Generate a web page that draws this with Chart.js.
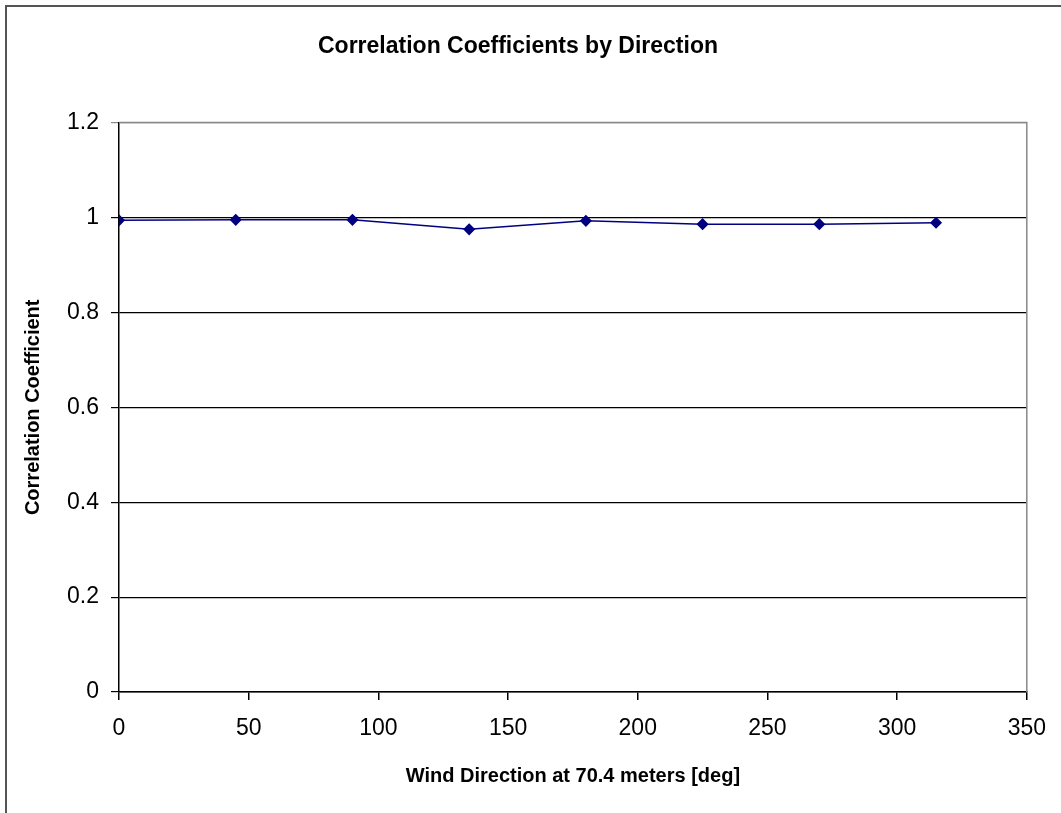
<!DOCTYPE html>
<html>
<head>
<meta charset="utf-8">
<script src="https://cdn.jsdelivr.net/npm/chart.js@4"></script>
<style>
  html, body { margin: 0; padding: 0; background: #fff; }
  #wrap { width: 1061px; height: 813px; position: relative; }
</style>
</head>
<body>
<div id="wrap"><canvas id="c" width="1061" height="813"></canvas></div>
<script>
const directions = [0, 45, 90, 135, 180, 225, 270, 315];
const correlation = [0.994, 0.995, 0.995, 0.975, 0.993, 0.986, 0.986, 0.989];
const titleText = 'Correlation Coefficients by Direction';
const xTitle = 'Wind Direction at 70.4 meters [deg]';
const yTitle = 'Correlation Coefficient';

const FONT = '"Liberation Sans", Arial, sans-serif';

const framePlugin = {
  id: 'frame',
  beforeDraw(chart) {
    const ctx = chart.ctx;
    ctx.save();
    ctx.fillStyle = '#fff';
    ctx.fillRect(0, 0, chart.width, chart.height);
    ctx.strokeStyle = '#555';
    ctx.lineWidth = 2;
    ctx.beginPath();
    ctx.moveTo(6, chart.height + 5);
    ctx.lineTo(6, 6);
    ctx.lineTo(chart.width + 5, 6);
    ctx.stroke();
    ctx.restore();
  },
  beforeDatasetsDraw(chart) {
    const ctx = chart.ctx;
    const a = chart.chartArea;
    ctx.save();
    ctx.strokeStyle = '#888';
    ctx.lineWidth = 1.5;
    ctx.beginPath();
    ctx.moveTo(a.left, a.top);
    ctx.lineTo(a.right, a.top);
    ctx.lineTo(a.right, a.bottom);
    ctx.stroke();
    ctx.restore();
  }
};

new Chart(document.getElementById('c'), {
  type: 'line',
  data: {
    datasets: [{
      data: directions.map((d, i) => ({ x: d, y: correlation[i] })),
      borderColor: '#000080',
      backgroundColor: '#000080',
      borderWidth: 1.5,
      pointStyle: 'rectRot',
      pointRadius: 5,
      pointHoverRadius: 5,
      pointBackgroundColor: '#000080',
      pointBorderColor: '#000080',
      tension: 0,
      fill: false
    }]
  },
  options: {
    responsive: false,
    animation: false,
    events: [],
    layout: { padding: { left: 0, right: 25, top: 0, bottom: 0 } },
    plugins: {
      legend: { display: false },
      tooltip: { enabled: false },
      title: {
        display: true,
        text: titleText,
        color: '#000',
        font: { family: FONT, size: 23, weight: 'bold', lineHeight: 1.2 },
        padding: { top: 33, bottom: 62 }
      }
    },
    scales: {
      x: {
        type: 'linear',
        min: 0, max: 350,
        afterFit(s) { s.height = 813 - 692; },
        ticks: {
          stepSize: 50,
          color: '#000',
          font: { family: FONT, size: 23, lineHeight: 1.2 },
          padding: 15,
          maxRotation: 0
        },
        grid: {
          display: true,
          drawOnChartArea: false,
          drawTicks: true,
          tickLength: 8,
          color: '#000',
          lineWidth: 1.5
        },
        border: { display: true, color: '#000', width: 1.5 },
        title: {
          display: true,
          text: xTitle,
          color: '#000',
          font: { family: FONT, size: 20, weight: 'bold', lineHeight: 1.2 },
          padding: { top: 0, bottom: 25 }
        }
      },
      y: {
        min: 0, max: 1.2,
        afterFit(s) { s.width = 119; },
        ticks: {
          stepSize: 0.2,
          color: '#000',
          font: { family: FONT, size: 23, lineHeight: 1.2 },
          padding: 12,
          callback: v => String(Math.round(v * 10) / 10)
        },
        grid: {
          display: true,
          drawOnChartArea: true,
          drawTicks: true,
          tickLength: 8,
          color: ctx => (ctx.tick && Math.abs(ctx.tick.value - 1.2) < 1e-9) ? '#888' : '#000',
          lineWidth: 1.2
        },
        border: { display: true, color: '#000', width: 1.5 },
        title: {
          display: true,
          text: yTitle,
          color: '#000',
          font: { family: FONT, size: 20, weight: 'bold', lineHeight: 1.2 },
          padding: { top: 21, bottom: 0 }
        }
      }
    }
  },
  plugins: [framePlugin]
});
</script>
</body>
</html>
